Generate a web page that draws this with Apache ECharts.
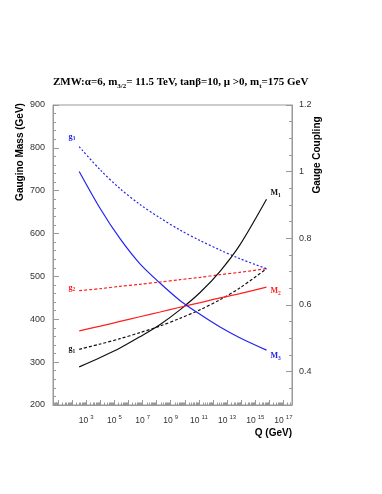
<!DOCTYPE html>
<html><head><meta charset="utf-8">
<script src="https://cdn.jsdelivr.net/npm/echarts@6/dist/echarts.min.js"></script>
<style>html,body{margin:0;padding:0;background:#fff}#c{width:382px;height:494px}</style>
</head><body><div id="c"></div>
<script>
// log10(Q / GeV)
const logQ = [2.5, 4.0, 5.4, 6.8, 8.25, 9.65, 11.1, 12.5, 13.9, 15.8];
// gaugino masses (GeV)
const M1 = [289, 311, 333, 359, 388, 422, 463, 512, 573, 680];
const M2 = [373, 384, 395, 406, 417, 428, 439, 450, 460, 475];
const M3 = [745, 658, 588, 530, 484, 444, 411, 382, 357, 328];
// gauge couplings
const g1 = [0.467, 0.483, 0.499, 0.517, 0.537, 0.560, 0.586, 0.616, 0.651, 0.709];
const g2 = [0.643, 0.649, 0.656, 0.662, 0.669, 0.676, 0.683, 0.691, 0.698, 0.709];
const g3 = [1.075, 1.005, 0.949, 0.902, 0.861, 0.825, 0.793, 0.765, 0.739, 0.709];
// tick labels
const xLabelExps = [3, 5, 7, 9, 11, 13, 15, 17];
const rightLabels = [0.4, 0.6, 0.8, 1.0, 1.2];

const X_MIN = 0.64, X_MAX = 17.61;
const majorX = [];
const minorX = [];
for (let n = 0; n <= 17; n++) {
  if (n >= X_MIN && n <= X_MAX) majorX.push(n);
  for (let k = 2; k <= 9; k++) {
    const v = n + Math.log10(k);
    if (v >= X_MIN && v <= X_MAX) minorX.push(v);
  }
}
const minorR = [];
for (let i = 6; i <= 24; i++) minorR.push(+(i * 0.05).toFixed(2));

const AX = '#999';
const LBL = '#333';
const SANS = '"Liberation Sans", Arial, sans-serif';
const SERIF = '"Liberation Serif", "Times New Roman", serif';

function pts(ys) { return logQ.map((x, i) => [x, ys[i]]); }
function gData(ys, name, color, offset) {
  const d = pts(ys);
  d[0] = {
    value: d[0],
    label: {
      show: true, position: 'left', distance: 4, offset: offset,
      formatter: 'g{s|' + name + '}',
      fontFamily: SERIF, fontWeight: 'bold', fontSize: 8, color: color, lineHeight: 10,
      rich: { s: { fontSize: 5.5, lineHeight: 5, verticalAlign: 'bottom', fontFamily: SERIF, fontWeight: 'bold', color: color } }
    }
  };
  return d;
}
function mSeries(ys, name, color, offset) {
  return {
    type: 'line', yAxisIndex: 0, data: pts(ys), smooth: 0.3, showSymbol: false,
    lineStyle: { color: color, width: 1.2 }, itemStyle: { color: color },
    endLabel: {
      show: true, distance: 4, offset: offset,
      formatter: 'M{s|' + name + '}',
      fontFamily: SERIF, fontWeight: 'bold', fontSize: 8, color: color, lineHeight: 10,
      rich: { s: { fontSize: 5.5, lineHeight: 5, verticalAlign: 'bottom', fontFamily: SERIF, fontWeight: 'bold', color: color } }
    },
    z: 3
  };
}
function gSeries(ys, name, color, dash, offset) {
  return {
    type: 'line', yAxisIndex: 1, data: gData(ys, name, color, offset), smooth: 0.3,
    showSymbol: true, symbolSize: 0.01, symbol: 'circle',
    lineStyle: { color: color, width: 1.2, type: dash }, itemStyle: { color: color },
    label: { show: false }, z: 2
  };
}

const chart = echarts.init(document.getElementById('c'), null, { renderer: 'canvas' });
chart.setOption({
  animation: false,
  backgroundColor: '#fff',
  grid: { left: 53, right: 90, top: 105, bottom: 89, show: true, borderColor: AX, borderWidth: 1, backgroundColor: 'transparent' },
  xAxis: [
    {
      type: 'value', min: X_MIN, max: X_MAX, position: 'bottom',
      axisLine: { onZero: false, lineStyle: { color: AX } },
      splitLine: { show: false },
      axisTick: { inside: true, length: 5, customValues: majorX, lineStyle: { color: AX } },
      axisLabel: {
        customValues: xLabelExps, margin: 9, color: LBL, fontFamily: SANS, fontSize: 8.5, lineHeight: 14,
        formatter: v => '10{sup|' + v + '}',
        rich: { sup: { fontSize: 6, lineHeight: 6, verticalAlign: 'top', color: LBL, fontFamily: SANS, padding: [0, 0, 0, 2] } }
      }
    },
    {
      type: 'value', min: X_MIN, max: X_MAX, position: 'bottom',
      axisLine: { show: false, onZero: false },
      splitLine: { show: false },
      axisTick: { inside: true, length: 2.5, customValues: minorX, lineStyle: { color: AX } },
      axisLabel: { show: false }
    }
  ],
  yAxis: [
    {
      type: 'value', min: 200, max: 900, interval: 100, position: 'left',
      axisLine: { show: true, onZero: false, lineStyle: { color: AX } },
      splitLine: { show: false },
      axisTick: { show: true, inside: true, length: 6, lineStyle: { color: AX } },
      minorTick: { show: true, splitNumber: 5, length: 3, lineStyle: { color: AX } },
      axisLabel: { margin: 8, color: LBL, fontFamily: SANS, fontSize: 9 }
    },
    {
      type: 'value', min: 0.3, max: 1.2, position: 'right',
      axisLine: { show: true, onZero: false, lineStyle: { color: AX } },
      splitLine: { show: false },
      axisTick: { show: true, inside: true, length: 6, customValues: rightLabels, lineStyle: { color: AX } },
      axisLabel: { customValues: rightLabels, margin: 7, color: LBL, fontFamily: SANS, fontSize: 9, formatter: v => String(+v.toFixed(2)) }
    },
    {
      type: 'value', min: 0.3, max: 1.2, position: 'right',
      axisLine: { show: false, onZero: false },
      splitLine: { show: false },
      axisTick: { show: true, inside: true, length: 3, customValues: minorR, lineStyle: { color: AX } },
      axisLabel: { show: false }
    }
  ],
  series: [
    mSeries(M1, '1', '#111111', [0, -6]),
    mSeries(M2, '2', '#ff2020', [0, 4]),
    mSeries(M3, '3', '#2424f0', [0, 6]),
    gSeries(g1, '1', '#111111', [3, 2], [0, 0]),
    gSeries(g2, '2', '#ff2020', [3, 2], [0, -3]),
    gSeries(g3, '3', '#2424f0', [2, 2], [0, -10])
  ],
  graphic: [
    {
      type: 'text', left: 53, top: 75,
      style: {
        text: 'ZMW:\u03b1=6, m{s|3/2}= 11.5 TeV, tan\u03b2=10, \u03bc >0, m{s|t}=175 GeV',
        font: 'bold 11px ' + SERIF, fill: '#000', lineHeight: 15,
        rich: { s: { fontSize: 7, lineHeight: 6, verticalAlign: 'bottom', fontFamily: SERIF, fontWeight: 'bold', fill: '#000' } }
      }
    },
    {
      type: 'text', x: 20, y: 152, rotation: Math.PI / 2,
      style: { text: 'Gaugino Mass (GeV)', font: 'bold 10px ' + SANS, fill: '#000', align: 'center', verticalAlign: 'middle' }
    },
    {
      type: 'text', x: 317, y: 155, rotation: Math.PI / 2,
      style: { text: 'Gauge Coupling', font: 'bold 10px ' + SANS, fill: '#000', align: 'center', verticalAlign: 'middle' }
    },
    {
      type: 'text', x: 292, y: 433,
      style: { text: 'Q (GeV)', font: 'bold 10px ' + SANS, fill: '#000', align: 'right', verticalAlign: 'middle' }
    }
  ]
});
</script></body></html>
